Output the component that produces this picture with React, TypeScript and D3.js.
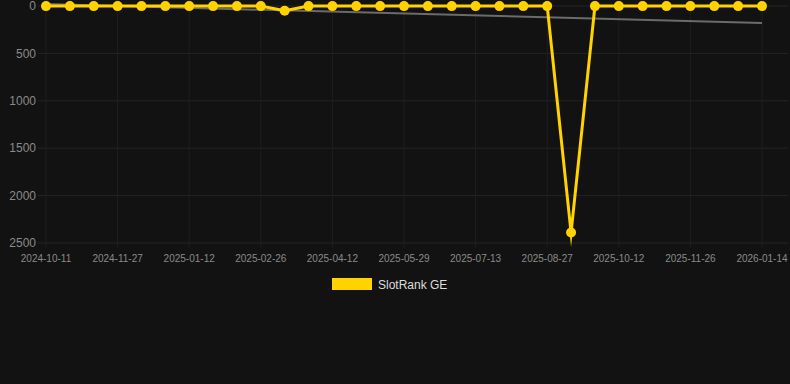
import React from "react";
import * as d3 from "d3";

const dates = [
  "2024-10-11", "2024-10-26", "2024-11-11", "2024-11-27", "2024-12-12", "2024-12-27",
  "2025-01-12", "2025-01-27", "2025-02-11", "2025-02-26", "2025-03-13", "2025-03-28",
  "2025-04-12", "2025-04-28", "2025-05-13", "2025-05-29", "2025-06-13", "2025-06-28",
  "2025-07-13", "2025-07-28", "2025-08-12", "2025-08-27", "2025-09-11", "2025-09-26",
  "2025-10-12", "2025-10-27", "2025-11-11", "2025-11-26", "2025-12-12", "2025-12-29",
  "2026-01-14",
];
const ranks = [
  1, 1, 1, 1, 1, 1, 1, 1, 1, 1, 50, 1, 1, 1, 1, 1, 1, 1, 1, 1, 1, 1, 2390, 1, 1, 1, 1, 1, 1, 1, 1,
];
const yTicks = [0, 500, 1000, 1500, 2000, 2500];
const seriesName = "SlotRank GE";

const W = 790;
const H = 384;
const YELLOW = "#FFD200";

export default function App() {
  const x = d3.scalePoint<string>().domain(dates).range([46, 762]);
  const y = d3.scaleLinear().domain([0, 2500]).range([6, 243]);

  const labelDates = dates.filter((_, i) => i % 3 === 0);

  // linear regression trend
  const n = ranks.length;
  const idx = d3.range(n);
  const mx = d3.mean(idx) as number;
  const my = d3.mean(ranks) as number;
  const sxy = d3.sum(idx, (i) => (i - mx) * (ranks[i] - my));
  const sxx = d3.sum(idx, (i) => (i - mx) * (i - mx));
  const slope = sxy / sxx;
  const intercept = my - slope * mx;
  const trend = [0, n - 1].map((i) => ({ d: dates[i], v: intercept + slope * i }));

  const line = d3
    .line<number>()
    .x((_, i) => x(dates[i]) as number)
    .y((v) => y(v));
  const trendLine = d3
    .line<{ d: string; v: number }>()
    .x((p) => x(p.d) as number)
    .y((p) => y(p.v));

  return (
    <svg
      width={W}
      height={H}
      style={{ position: "absolute", left: 0, top: 0, background: "#121212", display: "block" }}
      fontFamily="'Liberation Sans', Arial, sans-serif"
    >
      <rect x={0} y={0} width={W} height={H} fill="#121212" />
      {/* horizontal grid */}
      {yTicks.map((t) => (
        <line key={"h" + t} x1={38} x2={788} y1={y(t)} y2={y(t)} stroke="#242424" strokeWidth={1} />
      ))}
      {/* vertical grid */}
      {labelDates.map((d) => (
        <line
          key={"v" + d}
          x1={x(d)}
          x2={x(d)}
          y1={0}
          y2={248}
          stroke="#1f1f1f"
          strokeWidth={1}
        />
      ))}
      {/* y labels */}
      {yTicks.map((t) => (
        <text
          key={"yl" + t}
          x={36}
          y={y(t)}
          dy="0.35em"
          textAnchor="end"
          fontSize={12}
          fill="#8a8a8a"
        >
          {t}
        </text>
      ))}
      {/* x labels */}
      {labelDates.map((d) => (
        <text key={"xl" + d} x={x(d)} y={262} textAnchor="middle" fontSize={10} fill="#8a8a8a">
          {d}
        </text>
      ))}
      {/* trend */}
      <path d={trendLine(trend) as string} fill="none" stroke="#6b6b6b" strokeWidth={2} />
      {/* series */}
      <path
        d={line(ranks) as string}
        fill="none"
        stroke={YELLOW}
        strokeWidth={3}
        strokeLinejoin="miter"
        strokeMiterlimit={10}
      />
      {ranks.map((v, i) => (
        <circle key={"p" + i} cx={x(dates[i])} cy={y(v)} r={5} fill={YELLOW} />
      ))}
      {/* legend */}
      <rect x={332} y={278} width={40} height={12} fill={YELLOW} />
      <text x={378} y={288.5} fontSize={12} fill="#dddddd">
        {seriesName}
      </text>
    </svg>
  );
}
